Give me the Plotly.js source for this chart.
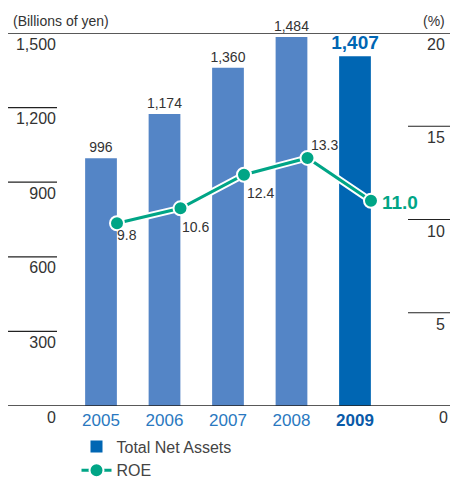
<!DOCTYPE html>
<html>
<head>
<meta charset="utf-8">
<script src="https://cdn.plot.ly/plotly-3.0.1.min.js"></script>
<style>html,body{margin:0;padding:0;background:#fff;}#chart{width:453px;height:478px;}</style>
</head>
<body>
<div id="chart"></div>
<script>
const years = ['2005', '2006', '2007', '2008', '2009'];
const netAssets = [996, 1174, 1360, 1484, 1407];
const roe = [9.8, 10.6, 12.4, 13.3, 11.0];
const leftTickVals = [0, 300, 600, 900, 1200, 1500];
const leftTickText = ['0', '300', '600', '900', '1,200', '1,500'];
const rightTickVals = [0, 5, 10, 15, 20];
const rightTickText = ['0', '5', '10', '15', '20'];

const FONT = 'Liberation Sans, Arial, sans-serif';
const LIGHT = '#5485c6';
const DARK = '#0066b3';
const TEAL = '#00a586';
const TXT = '#333333';

const n = years.length;
const histYears = years.slice(0, n - 1);
const histVals = netAssets.slice(0, n - 1);
const lastYear = years.slice(n - 1);
const lastVal = netAssets.slice(n - 1);

const xr = [-0.693, 5.449];
const shift = 0.252;

const tickText = years.map((y, i) => i === n - 1 ? '<b><span style="color:#0a5aa8">' + y + '</span></b>' : y);

const traces = [
  {
    type: 'bar', x: histYears, y: histVals, name: 'Total Net Assets', showlegend: false,
    marker: {color: LIGHT}, width: 0.5,
    texttemplate: '%{y:,}', textposition: 'outside', cliponaxis: false, constraintext: 'none',
    textfont: {family: FONT, size: 14, color: TXT}, hoverinfo: 'skip'
  },
  {
    type: 'bar', x: lastYear, y: lastVal, name: 'Total Net Assets',
    marker: {color: DARK}, width: 0.5,
    texttemplate: '<b>%{y:,}</b>', textposition: 'outside', cliponaxis: false, constraintext: 'none',
    textfont: {family: FONT, size: 19, color: DARK}, hoverinfo: 'skip'
  },
  {
    type: 'scatter', mode: 'lines', x: years, y: roe, xaxis: 'x2', yaxis: 'y2',
    line: {color: '#ffffff', width: 7}, showlegend: false, hoverinfo: 'skip', cliponaxis: false
  },
  {
    type: 'scatter', mode: 'lines+markers', x: years, y: roe, xaxis: 'x2', yaxis: 'y2',
    name: 'ROE', line: {color: TEAL, width: 3},
    marker: {color: TEAL, size: 14, line: {color: '#ffffff', width: 2}},
    cliponaxis: false, hoverinfo: 'skip'
  }
];

const lx0 = -0.1256, lx1 = 1.0077;
const shapes = [];
leftTickVals.forEach(v => {
  if (v === 0 || v === 1500) {
    shapes.push({type: 'line', xref: 'paper', yref: 'y', x0: lx0, x1: lx1, y0: v, y1: v, line: {color: '#222', width: 1.3}});
  } else {
    shapes.push({type: 'line', xref: 'paper', yref: 'y', x0: lx0, x1: 0, y0: v, y1: v, line: {color: '#222', width: 1.2}});
  }
});
rightTickVals.forEach(v => {
  if (v !== 0 && v !== 20) {
    shapes.push({type: 'line', xref: 'paper', yref: 'y2', x0: 0.9, x1: lx1, y0: v, y1: v, line: {color: '#222', width: 1.2}});
  }
});

const annotations = [
  {xref: 'paper', yref: 'paper', x: lx0 + 0.008, y: 1, xanchor: 'left', yanchor: 'bottom', yshift: 2,
   text: '(Billions of yen)', showarrow: false, font: {family: FONT, size: 14, color: TXT}},
  {xref: 'paper', yref: 'paper', x: 1, y: 1, xanchor: 'right', yanchor: 'bottom', yshift: 2,
   text: '(%)', showarrow: false, font: {family: FONT, size: 14, color: TXT}}
];
// right-axis tick labels, placed just under each level
rightTickVals.forEach((v, i) => {
  annotations.push({xref: 'paper', yref: 'y2', x: i === 0 ? 1.008 : 1, y: v, xanchor: 'right', yanchor: 'top', yshift: -1,
    text: rightTickText[i], showarrow: false, font: {family: FONT, size: 16, color: TXT}});
});
// ROE value labels (x as category index on the shifted ROE axis)
const roePlace = [
  {xanchor: 'left', yanchor: 'top', xshift: -2, yshift: -2},
  {xanchor: 'left', yanchor: 'top', xshift: -1, yshift: -9},
  {xanchor: 'left', yanchor: 'top', xshift: 1, yshift: -8},
  {xanchor: 'left', yanchor: 'bottom', xshift: 1, yshift: 3},
  {xanchor: 'left', yanchor: 'middle', xshift: 9, yshift: -2}
];
roe.forEach((v, i) => {
  const last = i === n - 1;
  annotations.push(Object.assign({
    xref: 'x2', yref: 'y2', x: i, y: v, showarrow: false,
    text: last ? '<b>' + v.toFixed(1) + '</b>' : v.toFixed(1),
    font: {family: FONT, size: last ? 19 : 14, color: last ? TEAL : TXT}
  }, roePlace[i]));
});

const layout = {
  width: 453, height: 478,
  margin: {l: 57, r: 6, t: 33, b: 72, pad: 0, autoexpand: false},
  paper_bgcolor: '#fff', plot_bgcolor: 'rgba(0,0,0,0)',
  font: {family: FONT, color: TXT},
  barmode: 'overlay',
  showlegend: true,
  legend: {
    xref: 'paper', yref: 'paper', x: 0.05, y: -0.063, xanchor: 'left', yanchor: 'top',
    orientation: 'v', font: {family: FONT, size: 16, color: '#444'}, tracegroupgap: 0,
    bgcolor: 'rgba(0,0,0,0)'
  },
  xaxis: {
    type: 'category', range: xr, tickmode: 'array', tickvals: years, ticktext: tickText,
    showgrid: false, zeroline: false, showline: false, ticks: '', tickangle: 0, automargin: false,
    ticklabelstandoff: 2,
    tickfont: {family: FONT, size: 17, color: '#2a78c0'}, fixedrange: true
  },
  xaxis2: {
    type: 'category', overlaying: 'x', range: [xr[0] - shift, xr[1] - shift],
    showticklabels: false, showgrid: false, zeroline: false, showline: false, ticks: '',
    fixedrange: true, automargin: false
  },
  yaxis: {
    range: [0, 1500], tickmode: 'array', tickvals: leftTickVals, ticktext: leftTickText,
    showgrid: false, zeroline: false, showline: false, ticks: '', automargin: false,
    tickfont: {family: FONT, size: 16, color: TXT}, ticklabelshift: 11, fixedrange: true
  },
  yaxis2: {
    range: [0, 20], overlaying: 'y', side: 'right', showticklabels: false,
    showgrid: false, zeroline: false, showline: false, ticks: '', automargin: false, fixedrange: true
  },
  shapes: shapes,
  annotations: annotations
};

Plotly.newPlot('chart', traces, layout, {displayModeBar: false, staticPlot: true});
</script>
</body>
</html>
